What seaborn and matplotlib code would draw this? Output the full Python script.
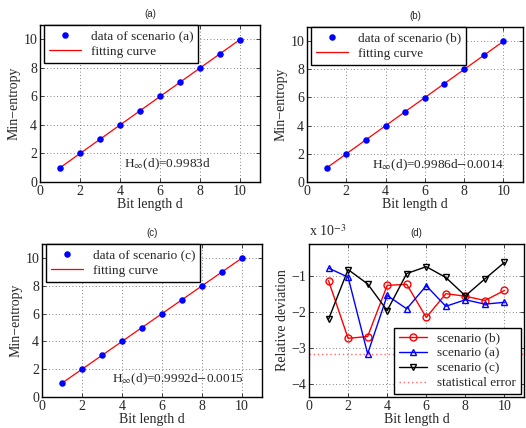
import matplotlib
matplotlib.use("Agg")
import matplotlib.pyplot as plt
import seaborn as sns

sns.set_style("ticks")
plt.rcParams["font.family"] = ["Liberation Serif", "DejaVu Serif"]
plt.rcParams["mathtext.fontset"] = "stix"
plt.rcParams["font.size"] = 9.5

W, H = 526, 428

# ---------------------------------------------------------------------------
# Data
# ---------------------------------------------------------------------------
bit_len = [1, 2, 3, 4, 5, 6, 7, 8, 9, 10]

# min-entropy per scenario
hmin_a = [0.999, 1.998, 2.991, 3.994, 4.991, 5.992, 6.987, 7.987, 8.984, 9.983]
hmin_b = [0.999, 1.995, 2.992, 3.995, 4.994, 5.987, 6.990, 7.988, 8.985, 9.986]
hmin_c = [0.998, 1.998, 2.996, 3.992, 4.995, 5.996, 6.993, 7.988, 8.990, 9.994]

# fitting curves (endpoints at d=1 and d=10)
fit_x = [1, 10]
fit_a = [0.9983, 9.983]
fit_b = [0.9972, 9.9846]
fit_c = [0.9977, 9.9905]

fit_text_a = r"H$_\infty$(d)=0.9983d"
fit_text_b = r"H$_\infty$(d)=0.9986d$-$0.0014"
fit_text_c = r"H$_\infty$(d)=0.9992d$-$0.0015"

# relative deviation (x 1e-3)
dev_b = [-1.12, -2.72, -2.67, -1.25, -1.22, -2.14, -1.48, -1.55, -1.67, -1.39]
dev_a = [-0.77, -1.02, -3.15, -1.53, -1.90, -1.26, -1.83, -1.65, -1.77, -1.72]
dev_c = [-2.19, -0.81, -1.21, -1.95, -0.92, -0.73, -1.03, -1.54, -1.07, -0.61]
stat_err = -3.15


def box(left, top, right, bottom):
    return [left / W, (H - bottom) / H, (right - left) / W, (bottom - top) / H]


def style_axes(ax, title):
    ax.set_xlim(0, 11)
    ax.set_xticks([0, 2, 4, 6, 8, 10])
    ax.grid(True, color="0.35", linestyle=(0, (1, 3)), linewidth=0.6)
    ax.tick_params(direction="in", length=3, width=0.6, labelsize=10, pad=2,
                   top=True, right=True)
    for sp in ax.spines.values():
        sp.set_linewidth(1.0)
        sp.set_color("black")
    ax.set_title(title, fontsize=7, family=["Liberation Sans", "DejaVu Sans"], pad=6)
    ax.set_xlabel("Bit length d", fontsize=10, labelpad=0)


def entropy_panel(rect, hmin, fit, label, text, tx, ty, title):
    ax = fig.add_axes(rect)
    sns.scatterplot(x=bit_len, y=hmin, ax=ax, color="blue", s=22, edgecolor="blue",
                    linewidth=0, label=label, zorder=3)
    sns.lineplot(x=fit_x, y=fit, ax=ax, color="red", linewidth=0.9, label="fitting curve", zorder=2)
    style_axes(ax, title)
    ax.set_ylim(0, 11)
    ax.set_yticks([0, 2, 4, 6, 8, 10])
    ax.set_ylabel("Min\u2212entropy", fontsize=10, labelpad=2)
    ax.text(tx, ty, text, fontsize=9.5)
    leg = ax.legend(loc="upper left", bbox_to_anchor=(0.02, 1.0), fontsize=9.5, frameon=True,
                    fancybox=False, framealpha=1, edgecolor="black", borderpad=0.35,
                    handlelength=2.4, labelspacing=0.3, borderaxespad=0)
    leg.get_frame().set_linewidth(1.0)
    return ax


fig = plt.figure(figsize=(W / 100, H / 100), dpi=100)

entropy_panel(box(40, 25, 260, 182), hmin_a, fit_a, "data of scenario (a)", fit_text_a, 4.2, 1.0, "(a)")
entropy_panel(box(307, 27, 523, 182), hmin_b, fit_b, "data of scenario (b)", fit_text_b, 3.3, 1.0, "(b)")
entropy_panel(box(42, 244, 262, 397), hmin_c, fit_c, "data of scenario (c)", fit_text_c, 3.5, 1.05, "(c)")

# ---------------------------------------------------------------------------
# (d) relative deviation
# ---------------------------------------------------------------------------
ax = fig.add_axes(box(309, 244, 524, 397))
series = [
    (dev_b, "red", "o", "scenario (b)"),
    (dev_a, "blue", "^", "scenario (a)"),
    (dev_c, "black", "v", "scenario (c)"),
]
for vals, col, mk, lab in series:
    sns.lineplot(x=bit_len, y=vals, ax=ax, color=col, linewidth=1.0, marker=mk, markersize=5,
                 markerfacecolor="none", markeredgecolor=col, markeredgewidth=1.0, label=lab)
ax.axhline(stat_err, color="#ff6666", linestyle=(0, (1, 2)), linewidth=1.0, label="statistical error")
style_axes(ax, "(d)")
ax.set_ylim(-4.35, -0.1)
ax.set_yticks([-4, -3, -2, -1])
ax.set_ylabel("Relative deviation", fontsize=10, labelpad=2)
ax.text(0.0, 1.03, r"x 10$^{-3}$", transform=ax.transAxes, fontsize=10, ha="left", va="bottom")
leg = ax.legend(loc="lower right", bbox_to_anchor=(0.985, 0.02), fontsize=9.5, frameon=True,
                fancybox=False, framealpha=1, edgecolor="black", borderpad=0.35,
                handlelength=2.1, labelspacing=0.2, borderaxespad=0)
leg.get_frame().set_linewidth(1.0)

fig.savefig("out.png", dpi=100)
